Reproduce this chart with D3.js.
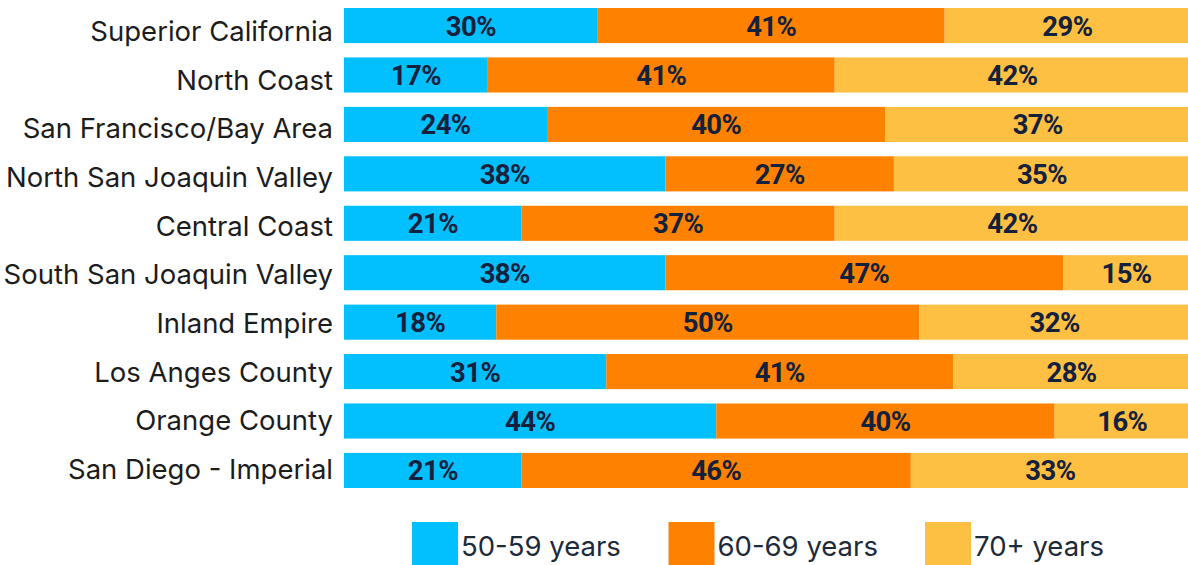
<!DOCTYPE html>
<html>
<head>
<meta charset="utf-8">
<script src="https://cdn.jsdelivr.net/npm/d3@7"></script>
<style>
  body { margin: 0; background: #fff; }
  svg { display: block; }
</style>
</head>
<body>
<div id="chart-area"></div>
<script>
// data
const regions = ['Superior California', 'North Coast', 'San Francisco/Bay Area',
  'North San Joaquin Valley', 'Central Coast', 'South San Joaquin Valley',
  'Inland Empire', 'Los Anges County', 'Orange County', 'San Diego - Imperial'];
const ageGroups = ['50-59 years', '60-69 years', '70+ years'];
const age50 = [30, 17, 24, 38, 21, 38, 18, 31, 44, 21];
const age60 = [41, 41, 40, 27, 37, 47, 50, 41, 40, 46];
const age70 = [29, 42, 37, 35, 42, 15, 32, 28, 16, 33];

const colors = ['#02c0fd', '#fe8100', '#fec043'];

const width = 1188;
const height = 565;

const svg = d3.select('#chart-area')
  .append('svg')
  .attr('width', width)
  .attr('height', height);

// build rows for the stack
const rows = regions.map((r, i) => ({
  region: r,
  '50-59 years': age50[i],
  '60-69 years': age60[i],
  '70+ years': age70[i]
}));
const series = d3.stack().keys(ageGroups)(rows);

// scales
const x = d3.scaleLinear().domain([0, 100]).range([344, 1190]);
const y = d3.scaleBand()
  .domain(regions)
  .range([8, 488])
  .paddingInner(0.29)
  .paddingOuter(0);
// region labels sit a touch off the bar centres
const yLabel = d3.scalePoint().domain(regions).range([31, 469]);

// bars
const groups = svg.selectAll('g.series')
  .data(series)
  .enter()
  .append('g')
  .attr('class', 'series')
  .attr('fill', (d, i) => colors[i]);

groups.selectAll('rect')
  .data(d => d)
  .enter()
  .append('rect')
  .attr('x', d => x(d[0]))
  .attr('width', d => Math.min(x(d[1]), x(100)) - x(d[0]))
  .attr('y', d => y(d.data.region))
  .attr('height', y.bandwidth());

// value labels
groups.selectAll('text')
  .data(d => d.map(v => ({ v, key: d.key })))
  .enter()
  .append('text')
  .attr('x', d => (x(d.v[0]) + Math.min(x(d.v[1]), x(100))) / 2)
  .attr('y', d => y(d.v.data.region) + y.bandwidth() / 2 + 10)
  .attr('text-anchor', 'middle')
  .attr('font-family', 'Roboto, sans-serif')
  .attr('font-weight', 700)
  .attr('font-size', '27.5px')
  .attr('letter-spacing', '-0.6px')
  .attr('fill', '#14213d')
  .text(d => d.v.data[d.key] + '%');

// region labels
svg.append('g')
  .selectAll('text')
  .data(regions)
  .enter()
  .append('text')
  .attr('x', 333)
  .attr('y', d => yLabel(d) + 10)
  .attr('text-anchor', 'end')
  .attr('font-family', 'Inter, sans-serif')
  .attr('font-size', '27.5px')
  .attr('fill', '#1c1c1c')
  .text(d => d);

// legend
const legend = svg.append('g')
  .selectAll('g')
  .data(ageGroups)
  .enter()
  .append('g')
  .attr('transform', (d, i) => 'translate(' + (412 + i * 256.5) + ', 522)');

legend.append('rect')
  .attr('width', 46)
  .attr('height', 46)
  .attr('fill', (d, i) => colors[i]);

legend.append('text')
  .attr('x', 49)
  .attr('y', 34)
  .attr('font-family', 'Inter, sans-serif')
  .attr('font-size', '27.5px')
  .attr('fill', '#1d2a3a')
  .text(d => d);
</script>
</body>
</html>
